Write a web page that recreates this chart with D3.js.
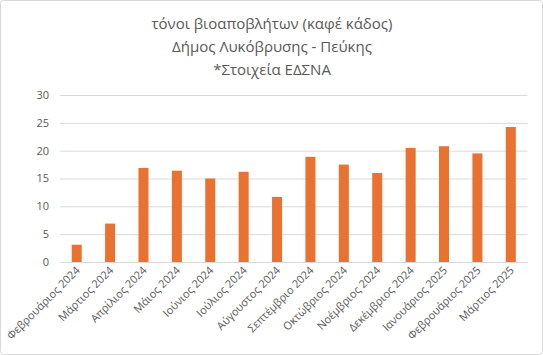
<!DOCTYPE html>
<html><head><meta charset="utf-8">
<script src="https://cdn.jsdelivr.net/npm/d3@7"></script>
<style>body{margin:0;background:#fff}svg{display:block}</style>
</head><body>
<svg id="c" width="543" height="355"></svg>
<script>
const categories = ["Φεβρουάριος 2024","Μάρτιος 2024","Απρίλιος 2024","Μάιος 2024","Ιούνιος 2024","Ιούλιος 2024","Αύγουστος 2024","Σεπτέμβριο 2024","Οκτώβριος 2024","Νοέμβριος 2024","Δεκέμβριος 2024","Ιανουάριος 2025","Φεβρουάριος 2025","Μάρτιος 2025"];
const values = [3.1,6.9,16.9,16.4,15.0,16.2,11.7,18.9,17.5,16.0,20.5,20.8,19.5,24.25];
const yTicks = [0,5,10,15,20,25,30];
const titleLines = ["τόνοι βιοαποβλήτων (καφέ κάδος)","Δήμος Λυκόβρυσης - Πεύκης","*Στοιχεία ΕΔΣΝΑ"];

const svg = d3.select("#c");
const font = "'Open Sans', sans-serif";
const textColor = "#595959";
svg.append("rect").attr("x",0.5).attr("y",0.5).attr("width",542).attr("height",354)
  .attr("rx",3).attr("fill","#fff").attr("stroke","#d9d9d9");

const m = {l:60, r:15.5, t:95, b:93};
const W = 543, H = 355;
const x = d3.scaleBand().domain(categories).range([m.l, W-m.r]).paddingInner(0.7).paddingOuter(0.35);
const y = d3.scaleLinear().domain([0,30]).range([262,95]);

// gridlines
svg.append("g").selectAll("line").data(yTicks).join("line")
  .attr("x1",m.l).attr("x2",W-m.r).attr("y1",d=>y(d)+0.5).attr("y2",d=>y(d)+0.5)
  .attr("stroke","#d9d9d9").attr("stroke-width",1);

// y labels
svg.append("g").selectAll("text").data(yTicks).join("text")
  .attr("x",49).attr("y",d=>y(d)).attr("dy","0.35em").attr("text-anchor","end")
  .attr("font-family",font).attr("font-size",11).attr("fill",textColor).text(d=>d);

// bars
svg.append("g").selectAll("rect").data(values).join("rect")
  .attr("x",(d,i)=>x(categories[i])).attr("width",x.bandwidth())
  .attr("y",d=>y(d)).attr("height",d=>y(0)-y(d)).attr("fill","#e97132");

// x labels
svg.append("g").selectAll("text").data(categories).join("text")
  .attr("transform",d=>`translate(${x(d)+x.bandwidth()/2+4},${271}) rotate(-45)`)
  .attr("text-anchor","end").attr("font-family",font).attr("font-size",11)
  .attr("fill",textColor).text(d=>d);

// title
svg.append("g").selectAll("text").data(titleLines).join("text")
  .attr("x",272).attr("y",(d,i)=>24+i*23).attr("dy","0.35em").attr("text-anchor","middle")
  .attr("font-family",font).attr("font-size",15).attr("fill",textColor).text(d=>d);
</script>
</body></html>
